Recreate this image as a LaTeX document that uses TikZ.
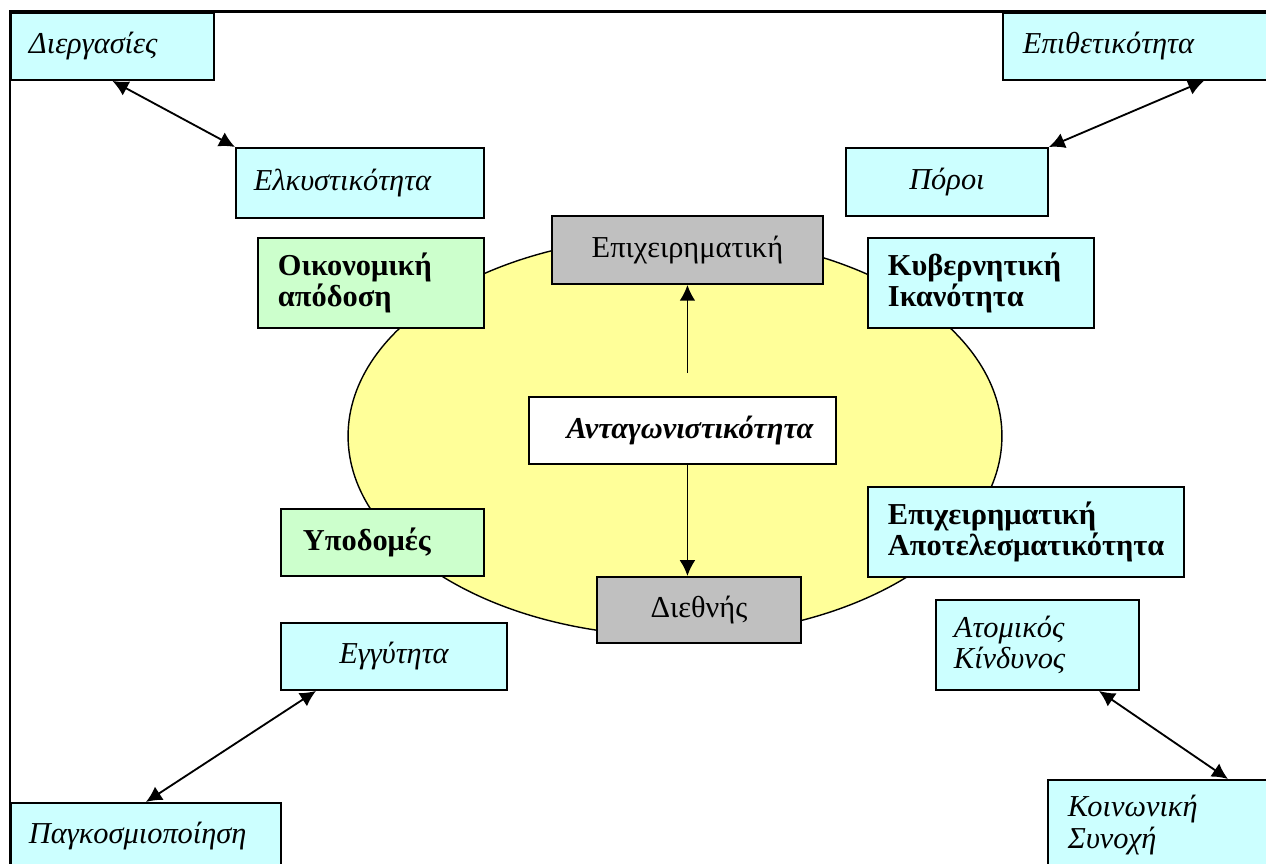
\documentclass[tikz,border=0pt]{standalone}
\usepackage{fontspec}
\setmainfont{Liberation Serif}
\usepackage{tikz}
\usetikzlibrary{arrows.meta}
\usetikzlibrary{positioning}
\usetikzlibrary{calc}
\definecolor{boxcyan}{RGB}{204,255,255}
\definecolor{boxgreen}{RGB}{204,255,204}
\definecolor{boxgray}{RGB}{192,192,192}
\definecolor{ovalyellow}{RGB}{255,255,153}
\tikzstyle{box}=[draw=black, line width=1.1pt, anchor=north west,
                 font=\fontsize{17.3}{17.8}\selectfont]
\tikzstyle{cyanbox}=[box, fill=boxcyan]
\tikzstyle{greenbox}=[box, fill=boxgreen]
\tikzstyle{graybox}=[box, fill=boxgray, align=center]
\tikzstyle{leftbox}=[align=left, inner xsep=0.36cm]
\tikzstyle{link}=[<->, >={Latex[length=9pt,width=9pt]}, line width=1.05pt]
\tikzstyle{up}=[->, >={Latex[length=9pt,width=9pt]}, line width=1.05pt]

\begin{document}
\begin{tikzpicture}[x=0.02cm, y=-0.02cm]
\useasboundingbox (0,0) rectangle (1266,864);
\clip (0,0) rectangle (1266,864);

% the oval behind everything
\draw[fill=ovalyellow, line width=0.8pt] (675,436) ellipse [x radius=6.54cm, y radius=4cm];

% corner boxes
\node[cyanbox, leftbox, text width=3.34cm, minimum height=1.34cm] at (10,12) (dierg) {\itshape Διεργασίες};
\node[cyanbox, leftbox, text width=4.24cm, minimum height=1.40cm] at (235,147) (elk) {\itshape Ελκυστικότητα};
\node[cyanbox, leftbox, inner xsep=0.4cm, text width=5cm, minimum height=1.34cm] at (1002,12) (epith) {\itshape Επιθετικότητα};
\node[cyanbox, align=center, minimum width=4.04cm, minimum height=1.36cm] at (845,147) (poroi) {\itshape Πόροι};
\node[cyanbox, align=center, minimum width=4.52cm, minimum height=1.34cm] at (280,622) (engy) {\itshape Εγγύτητα};
\node[cyanbox, leftbox, text width=4.68cm, minimum height=1.34cm] at (10,802) (pagk) {\itshape Παγκοσμιοποίηση};
\node[cyanbox, leftbox, text width=3.34cm, minimum height=1.80cm] at (935,599) (atom) {\itshape Ατομικός\\Κίνδυνος};
\node[cyanbox, leftbox, inner xsep=0.4cm, text width=4cm, minimum height=1.80cm] at (1047,779) (koin) {\itshape Κοινωνική\\Συνοχή};

% boxes round the oval
\node[greenbox, leftbox, inner xsep=0.4cm, text width=3.72cm, minimum height=1.80cm] at (257,237) (oikon) {\bfseries Οικονομική\\απόδοση};
\node[greenbox, leftbox, inner xsep=0.44cm, text width=3.18cm, minimum height=1.34cm] at (280,508) (ypod) {\bfseries Υποδομές};
\node[cyanbox, leftbox, inner xsep=0.4cm, text width=3.72cm, minimum height=1.80cm] at (867,237) (kyv) {\bfseries Κυβερνητική\\Ικανότητα};
\node[cyanbox, leftbox, inner xsep=0.4cm, text width=5.52cm, minimum height=1.80cm] at (867,486) (apot) {\bfseries Επιχειρηματική\\Αποτελεσματικότητα};

% centre column
\node[graybox, minimum width=5.42cm, minimum height=1.36cm] at (551,215) (epix) {Επιχειρηματική};
\node[box, fill=white, align=center, minimum width=6.14cm, minimum height=1.34cm] at (528,396) (ant) {\bfseries\itshape\ \ Ανταγωνιστικότητα};
\node[graybox, minimum width=4.08cm, minimum height=1.32cm] at (596,576) (dieth) {Διεθνής};

\draw[up, shorten <=0.46cm] (ant.north -| epix.south) -- (epix.south);
\draw[up] (ant.south -| epix.south) -- (epix.south |- dieth.north);

% free ends of the corner links
\coordinate (epithfoot) at ([xshift=4.04cm]epith.south west);
\coordinate (engyfoot) at ([xshift=0.72cm]engy.south west);
\coordinate (atomfoot) at ([xshift=3.28cm]atom.south west);
\coordinate (koinhead) at ([xshift=3.62cm]koin.north west);

\draw[link] (dierg.south) -- (elk.north west);
\draw[link] (epithfoot) -- (poroi.north east);
\draw[link] (engyfoot) -- (pagk.north);
\draw[link] (atomfoot) -- (koinhead);

% frame
\draw[line width=1.7pt] (10,864) -- (10,12) -- (1266,12);
\end{tikzpicture}
\end{document}
